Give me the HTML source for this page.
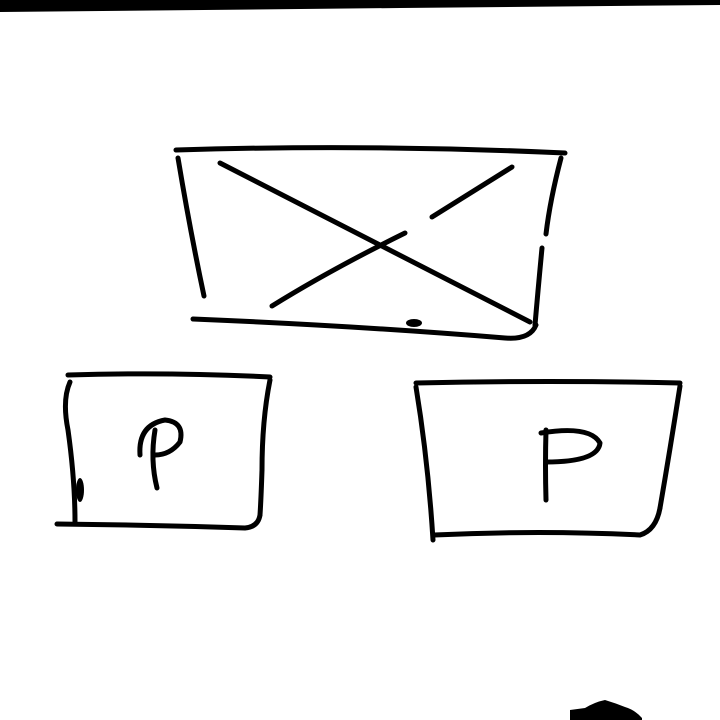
<!DOCTYPE html>
<html><head><meta charset="utf-8"><style>html,body{margin:0;padding:0;background:#fff;width:720px;height:720px;overflow:hidden}</style></head>
<body>
<svg width="720" height="720" viewBox="0 0 720 720" xmlns="http://www.w3.org/2000/svg">
<polygon points="0,0 720,0 720,5 400,8 0,12" fill="#000"/>
<g fill="none" stroke="#000" stroke-width="5" stroke-linecap="round" stroke-linejoin="round">
<g>
<path d="M176,150 Q370,144 565,153"/>
<path d="M178,158 Q190,230 204,296"/>
<path d="M561,158 Q550,200 546,234"/>
<path d="M542,248 Q538,290 535,325"/>
<path d="M193,319 Q360,326 505,338 Q530,340 536,325"/>
<path d="M220,163 Q380,245 530,322"/>
<path d="M512,167 L432,217"/>
<path d="M405,233 Q330,270 272,306"/>
</g>
<g>
<path d="M68,375 Q170,372 270,377"/>
<path d="M70,382 Q62,400 68,430 Q75,480 75,522"/>
<path d="M57,524 Q150,525 245,528 Q258,527 260,515"/>
<path d="M270,380 Q262,420 262,470 Q261,500 260,515"/>
<path d="M155,430 Q150,460 157,488"/>
<path d="M140,455 Q138,425 165,420 Q185,422 180,442 Q170,455 155,455"/>
</g>
<g>
<path d="M416,383 Q550,380 680,383"/>
<path d="M416,387 Q428,460 433,540"/>
<path d="M434,535 Q540,530 640,535 Q656,530 660,508"/>
<path d="M680,386 Q670,450 660,508"/>
<path d="M546,430 Q545,465 546,500"/>
<path d="M541,433 Q590,425 600,443 Q598,462 546,462"/>
</g>
</g>
<ellipse cx="414" cy="323" rx="8" ry="4" fill="#000"/>
<ellipse cx="80" cy="490" rx="4" ry="12" fill="#000"/>
<path d="M570,710 L585,708 Q595,702 605,700 Q615,703 625,707 Q635,710 642,718 L642,720 L570,720 Z" fill="#000"/>
</svg>
</body></html>
